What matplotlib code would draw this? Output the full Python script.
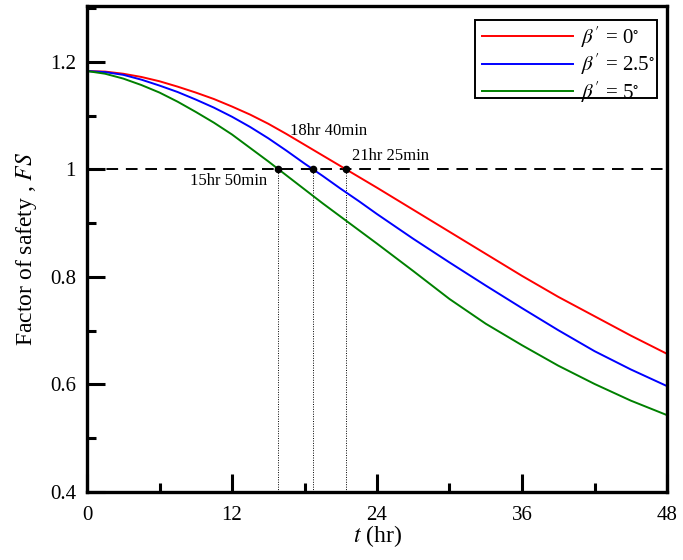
import matplotlib
matplotlib.use("Agg")
import matplotlib.pyplot as plt
from matplotlib.patches import Rectangle
from matplotlib.ticker import MultipleLocator

plt.rcParams["font.family"] = ["Liberation Serif", "DejaVu Serif"]
plt.rcParams["mathtext.fontset"] = "stix"

# Time (hr) and factor of safety for each slope angle
t_hr = [0, 1.5, 3, 4.5, 6, 7.5, 9, 10.5, 12, 13.5, 15, 16.5, 18, 19.5, 21, 22.5,
        24, 27, 30, 33, 36, 39, 42, 45, 48]
fs_beta0 = [1.183, 1.182, 1.178, 1.172, 1.164, 1.154, 1.143, 1.131, 1.117, 1.102,
            1.085, 1.066, 1.046, 1.026, 1.006, 0.986, 0.966,
            0.925, 0.884, 0.843, 0.802, 0.763, 0.727, 0.691, 0.657]
fs_beta25 = [1.183, 1.181, 1.176, 1.167, 1.156, 1.144, 1.130, 1.115, 1.098, 1.079,
             1.058, 1.035, 1.011, 0.988, 0.964, 0.941, 0.917,
             0.871, 0.827, 0.784, 0.742, 0.701, 0.662, 0.628, 0.597]
fs_beta5 = [1.183, 1.178, 1.169, 1.157, 1.143, 1.126, 1.107, 1.087, 1.065, 1.040,
            1.015, 0.989, 0.963, 0.937, 0.912, 0.887, 0.862,
            0.811, 0.759, 0.713, 0.673, 0.635, 0.601, 0.570, 0.543]

series_labels = [r"$\beta'$ = 0$^{\circ}$", r"$\beta'$ = 2.5$^{\circ}$",
                 r"$\beta'$ = 5$^{\circ}$"]
series_colors = ["#ff0000", "#0000ff", "#008000"]

# Times at which FS reaches 1 (hr) and their annotations
fail_times = [15 + 50 / 60, 18 + 40 / 60, 21 + 25 / 60]
fail_labels = ["15hr 50min", "18hr 40min", "21hr 25min"]
fs_critical = 1.0

fig = plt.figure(figsize=(6.83, 5.6), dpi=100)
ax = fig.add_axes([87 / 683, 68 / 560, 580 / 683, 486 / 560])

for fs, lab, col in zip([fs_beta0, fs_beta25, fs_beta5], series_labels, series_colors):
    ax.plot(t_hr, fs, color=col, lw=1.4, label=lab)

ax.plot([0, 48], [fs_critical, fs_critical], color="black", lw=1.4,
        linestyle=(0, (6, 4)), zorder=1)
for tf in fail_times:
    ax.plot([tf, tf], [0.4, fs_critical], color="black", lw=0.7,
            linestyle=(0, (1, 1.5)), zorder=1)
ax.plot(fail_times, [fs_critical] * 3, "o", color="black", ms=4.5, zorder=5)

ax.text(fail_times[0] - 0.9, 0.978, fail_labels[0], ha="right", va="center", fontsize=12)
ax.text(16.8, 1.072, fail_labels[1], ha="left", va="center", fontsize=12)
ax.text(21.93, 1.025, fail_labels[2], ha="left", va="center", fontsize=12)

ax.set_xlim(0, 48)
ax.set_ylim(0.4, 1.304)
ax.xaxis.set_major_locator(MultipleLocator(12))
ax.xaxis.set_minor_locator(MultipleLocator(6))
ax.yaxis.set_minor_locator(MultipleLocator(0.1))
ax.set_yticks([0.4, 0.6, 0.8, 1.0, 1.2])
ax.set_yticklabels(["0.4", "0.6", "0.8", "1", "1.2"])

ax.tick_params(which="both", direction="in", top=False, right=False, width=2.2,
               labelsize=15)
ax.tick_params(which="major", length=13)
ax.tick_params(which="minor", length=6.5)
ax.tick_params(axis="x", which="major", pad=10)
ax.tick_params(axis="y", which="major", pad=8)
for sp in ax.spines.values():
    sp.set_linewidth(2.4)

ax.set_xlabel(r"$t$ (hr)", fontsize=17, labelpad=-1)
ax.set_ylabel(r"Factor of safety , $FS$", fontsize=17, labelpad=8)

# Legend with a tight rectangular box drawn behind it
box = Rectangle((0.669, 0.8107), 0.9828 - 0.669, 0.9712 - 0.8107,
                transform=ax.transAxes, facecolor="white", edgecolor="black",
                lw=1.4, zorder=4)
ax.add_patch(box)
leg = ax.legend(loc="upper right", bbox_to_anchor=(0.988, 0.9733), fontsize=15,
                handlelength=4.4, handletextpad=0.35, borderpad=0.25,
                labelspacing=0.1, frameon=False, borderaxespad=0)
leg.set_zorder(5)

fig.savefig("out.png", dpi=100)
